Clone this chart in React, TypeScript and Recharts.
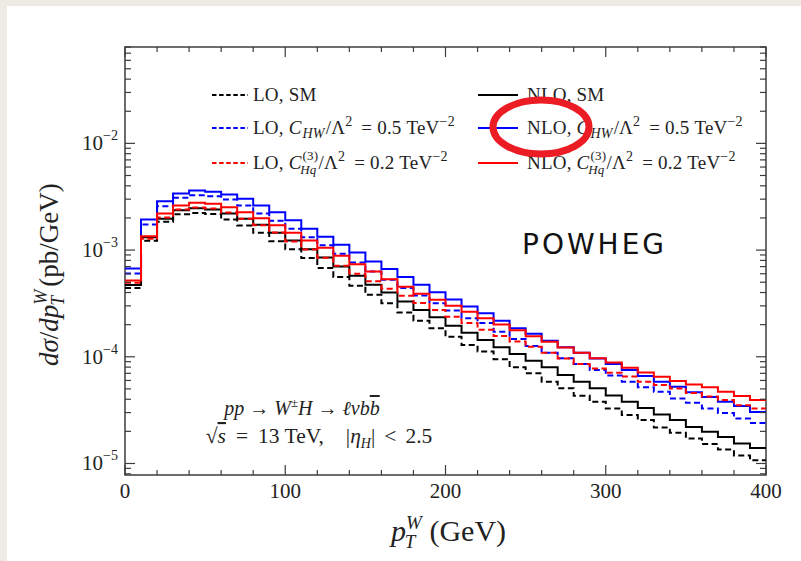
import React from "react";
import { LineChart, Line, XAxis, YAxis, ReferenceArea } from "recharts";

// p_T^W bin lower edges (GeV), 10 GeV bins; last edge closes the histogram
const binEdges = [
  0, 10, 20, 30, 40, 50, 60, 70, 80, 90, 100, 110, 120, 130, 140, 150, 160, 170, 180, 190,
  200, 210, 220, 230, 240, 250, 260, 270, 280, 290, 300, 310, 320, 330, 340, 350, 360, 370, 380, 390, 400,
];

// d sigma / d pT (pb/GeV), one value per bin
const loSM = [
  4.4e-4, 1.22e-3, 1.84e-3, 2.17e-3, 2.23e-3, 2.18e-3, 1.93e-3, 1.7e-3, 1.45e-3, 1.21e-3,
  1.02e-3, 8.43e-4, 6.79e-4, 5.59e-4, 4.63e-4, 3.81e-4, 3.18e-4, 2.6e-4, 2.18e-4, 1.85e-4,
  1.54e-4, 1.29e-4, 1.12e-4, 9.47e-5, 7.97e-5, 7.0e-5, 5.83e-5, 5.06e-5, 4.31e-5, 3.78e-5,
  3.28e-5, 2.84e-5, 2.55e-5, 2.17e-5, 1.94e-5, 1.71e-5, 1.52e-5, 1.35e-5, 1.19e-5, 1.07e-5,
];
const nloSM = [
  4.7e-4, 1.32e-3, 1.97e-3, 2.36e-3, 2.47e-3, 2.4e-3, 2.2e-3, 1.97e-3, 1.73e-3, 1.45e-3,
  1.23e-3, 1.02e-3, 8.54e-4, 7.03e-4, 5.75e-4, 4.73e-4, 4.0e-4, 3.3e-4, 2.75e-4, 2.35e-4,
  1.95e-4, 1.68e-4, 1.44e-4, 1.23e-4, 1.06e-4, 9.19e-5, 7.97e-5, 6.74e-5, 5.83e-5, 5.06e-5,
  4.33e-5, 3.78e-5, 3.32e-5, 2.88e-5, 2.55e-5, 2.2e-5, 1.98e-5, 1.77e-5, 1.54e-5, 1.4e-5,
];
const loCHW = [
  6.04e-4, 1.74e-3, 2.57e-3, 3.09e-3, 3.27e-3, 3.2e-3, 2.98e-3, 2.61e-3, 2.2e-3, 1.88e-3,
  1.58e-3, 1.32e-3, 1.11e-3, 9.25e-4, 7.66e-4, 6.31e-4, 5.27e-4, 4.4e-4, 3.75e-4, 3.18e-4,
  2.71e-4, 2.3e-4, 2.07e-4, 1.72e-4, 1.47e-4, 1.26e-4, 1.09e-4, 9.68e-5, 8.56e-5, 7.51e-5,
  6.67e-5, 5.83e-5, 5.17e-5, 4.7e-5, 4.07e-5, 3.7e-5, 3.28e-5, 2.98e-5, 2.64e-5, 2.4e-5,
];
const nloCHW = [
  6.73e-4, 1.93e-3, 2.87e-3, 3.39e-3, 3.62e-3, 3.52e-3, 3.32e-3, 3.02e-3, 2.61e-3, 2.26e-3,
  1.9e-3, 1.58e-3, 1.33e-3, 1.12e-3, 9.51e-4, 7.83e-4, 6.64e-4, 5.59e-4, 4.73e-4, 4.02e-4,
  3.44e-4, 2.96e-4, 2.56e-4, 2.18e-4, 1.85e-4, 1.64e-4, 1.41e-4, 1.23e-4, 1.09e-4, 9.64e-5,
  8.56e-5, 7.51e-5, 6.6e-5, 5.83e-5, 5.24e-5, 4.64e-5, 4.19e-5, 3.78e-5, 3.45e-5, 3.03e-5,
];
const loCHq = [
  4.94e-4, 1.28e-3, 2.02e-3, 2.4e-3, 2.5e-3, 2.45e-3, 2.25e-3, 1.97e-3, 1.71e-3, 1.46e-3,
  1.2e-3, 1.01e-3, 8.48e-4, 7.14e-4, 6.0e-4, 5.1e-4, 4.34e-4, 3.73e-4, 3.2e-4, 2.75e-4,
  2.37e-4, 2.07e-4, 1.79e-4, 1.57e-4, 1.39e-4, 1.24e-4, 1.09e-4, 9.64e-5, 8.56e-5, 7.76e-5,
  7.09e-5, 6.53e-5, 5.83e-5, 5.43e-5, 5.04e-5, 4.57e-5, 4.24e-5, 3.93e-5, 3.52e-5, 3.28e-5,
];
const nloCHq = [
  5.19e-4, 1.35e-3, 2.2e-3, 2.61e-3, 2.77e-3, 2.71e-3, 2.52e-3, 2.26e-3, 1.99e-3, 1.71e-3,
  1.45e-3, 1.23e-3, 1.05e-3, 8.86e-4, 7.37e-4, 6.31e-4, 5.33e-4, 4.53e-4, 3.89e-4, 3.42e-4,
  3.0e-4, 2.64e-4, 2.3e-4, 2.01e-4, 1.77e-4, 1.56e-4, 1.38e-4, 1.22e-4, 1.09e-4, 9.68e-5,
  8.84e-5, 7.9e-5, 7.12e-5, 6.5e-5, 5.92e-5, 5.51e-5, 5.17e-5, 4.7e-5, 4.28e-5, 3.93e-5,
];

const yDomain = [7.8e-6, 0.08];
const yDecades = [1e-6, 1e-5, 1e-4, 1e-3, 1e-2];
const yMajorExps = ["−5", "−4", "−3", "−2"];
const yMantissas = [1, 2, 3, 4, 5, 6, 7, 8, 9];
const xTicks = [0, 20, 40, 60, 80, 100, 120, 140, 160, 180, 200, 220, 240, 260, 280, 300, 320, 340, 360, 380, 400];
const xLabelTicks = [0, 100, 200, 300, 400];

// plot frame in page pixels
const W = 801;
const H = 561;
const PL = 125;
const PR = 766;
const PT = 47;
const PB = 475;

const SERIF = "'Liberation Serif', 'DejaVu Serif', serif";
const AXIS = "#3c3c3c";
const INK = "#222";
const BLUE = "#0000ff";
const RED = "#ff0000";

const yTicks: number[] = [];
yDecades.forEach((d) =>
  yMantissas.forEach((m) => {
    const v = m * d;
    if (v >= yDomain[0] && v <= yDomain[1] * 1.0001) yTicks.push(v);
  })
);

const rows = binEdges.map((x, i) => {
  const k = Math.min(i, loSM.length - 1);
  return {
    x,
    loSM: loSM[k],
    nloSM: nloSM[k],
    loCHW: loCHW[k],
    nloCHW: nloCHW[k],
    loCHq: loCHq[k],
    nloCHq: nloCHq[k],
  };
});

const series = [
  { key: "loSM", color: "#000", dashed: true },
  { key: "nloSM", color: "#000", dashed: false },
  { key: "loCHW", color: BLUE, dashed: true },
  { key: "nloCHW", color: BLUE, dashed: false },
  { key: "loCHq", color: RED, dashed: true },
  { key: "nloCHq", color: RED, dashed: false },
];

const isMajor = (v: number) => {
  const e = Math.log10(v);
  return Math.abs(e - Math.round(e)) < 1e-6;
};

const YTick = (props: any) => {
  const { y, payload } = props;
  const v = payload.value;
  const major = isMajor(v);
  const len = major ? 10 : 6;
  const idx = yDecades.slice(1).findIndex((d) => Math.abs(d - v) / d < 1e-6);
  return (
    <g>
      <line x1={PL} x2={PL + len} y1={y} y2={y} stroke={AXIS} strokeWidth={1.2} />
      <line x1={PR} x2={PR - len} y1={y} y2={y} stroke={AXIS} strokeWidth={1.2} />
      {major && idx >= 0 && (
        <text x={PL - 7} y={y + 7} textAnchor="end" fontFamily={SERIF} fontSize={21} fill={INK}>
          10
          <tspan fontSize={14} dy={-10}>
            {yMajorExps[idx]}
          </tspan>
        </text>
      )}
    </g>
  );
};

const XTick = (props: any) => {
  const { x, payload } = props;
  const v = payload.value;
  const major = xLabelTicks.includes(v);
  const len = major ? 10 : 5;
  return (
    <g>
      <line x1={x} x2={x} y1={PB} y2={PB - len} stroke={AXIS} strokeWidth={1.2} />
      <line x1={x} x2={x} y1={PT} y2={PT + len} stroke={AXIS} strokeWidth={1.2} />
      {major && (
        <text x={x} y={PB + 23} textAnchor="middle" fontFamily={SERIF} fontSize={21} fill={INK}>
          {v}
        </text>
      )}
    </g>
  );
};

const LegendRow = ({ x, y, color, dashed, children }: any) => (
  <g>
    <line
      x1={x}
      x2={x + (dashed ? 36 : 40)}
      y1={y - 6}
      y2={y - 6}
      stroke={color}
      strokeWidth={1.8}
      strokeDasharray={dashed ? "4.5 2.6" : undefined}
    />
    <text x={x + (dashed ? 41 : 49)} y={y} fontFamily={SERIF} fontSize={19} letterSpacing={0.2} fill={INK}>
      {children}
    </text>
  </g>
);

const chwText = (lead: string) => (
  <>
    {lead}, <tspan fontStyle="italic">C</tspan>
    <tspan fontStyle="italic" fontSize={14} dx={1} dy={4}>
      HW
    </tspan>
    <tspan dx={1} dy={-4}>
      /Λ
    </tspan>
    <tspan fontSize={14} dy={-8}>
      2
    </tspan>
    <tspan dy={8} dx={4}>
      {" "}= 0.5 TeV
    </tspan>
    <tspan fontSize={14} dy={-8}>
      −2
    </tspan>
  </>
);

// C_Hq^(3): superscript and subscript stacked on the same column
const chqText = (lead: string) => (
  <>
    {lead}, <tspan fontStyle="italic">C</tspan>
    <tspan fontSize={13} dx={1} dy={-9}>
      (3)
    </tspan>
    <tspan fontStyle="italic" fontSize={13} dx={-18} dy={14}>
      Hq
    </tspan>
    <tspan dx={2} dy={-5}>
      /Λ
    </tspan>
    <tspan fontSize={14} dy={-8}>
      2
    </tspan>
    <tspan dy={8} dx={4}>
      {" "}= 0.2 TeV
    </tspan>
    <tspan fontSize={14} dy={-8}>
      −2
    </tspan>
  </>
);

function Overlay() {
  const c1 = 212;
  const c2 = 478;
  return (
    <svg width={W} height={H} style={{ position: "absolute", left: 0, top: 0, pointerEvents: "none" }}>
      <LegendRow x={c1} y={101} color="#000" dashed>
        LO, SM
      </LegendRow>
      <LegendRow x={c2} y={101} color="#000" dashed={false}>
        NLO, SM
      </LegendRow>
      <LegendRow x={c1} y={134} color={BLUE} dashed>
        {chwText("LO")}
      </LegendRow>
      <LegendRow x={c2} y={134} color={BLUE} dashed={false}>
        {chwText("NLO")}
      </LegendRow>
      <LegendRow x={c1} y={169} color={RED} dashed>
        {chqText("LO")}
      </LegendRow>
      <LegendRow x={c2} y={169} color={RED} dashed={false}>
        {chqText("NLO")}
      </LegendRow>

      <ellipse cx={541} cy={127} rx={48} ry={27} fill="none" stroke="#ec1c24" strokeWidth={7} />

      <text x={522} y={254} fontFamily="'DejaVu Sans', sans-serif" fontSize={28} letterSpacing={3} fill="#111">
        POWHEG
      </text>

      <text x={302} y={415} textAnchor="middle" fontFamily={SERIF} fontSize={20} fill={INK}>
        <tspan fontStyle="italic">pp</tspan> → <tspan fontStyle="italic">W</tspan>
        <tspan fontSize={13} dy={-8}>
          ±
        </tspan>
        <tspan fontStyle="italic" dy={8}>
          H
        </tspan>{" "}
        → <tspan fontStyle="italic">ℓνb</tspan>
        <tspan fontStyle="italic" style={{ textDecoration: "overline" }}>
          b
        </tspan>
      </text>
      <text x={319} y={443} textAnchor="middle" fontFamily={SERIF} fontSize={21.5} fill={INK}>
        √<tspan fontStyle="italic" style={{ textDecoration: "overline" }}>s</tspan>
        <tspan dx={10}>=</tspan>
        <tspan dx={10}>13 TeV,</tspan>
        <tspan dx={22}>|</tspan>
        <tspan fontStyle="italic">η</tspan>
        <tspan fontStyle="italic" fontSize={14} dy={5}>
          H
        </tspan>
        <tspan dy={-5}>|</tspan>
        <tspan dx={9}>&lt;</tspan>
        <tspan dx={9}>2.5</tspan>
      </text>

      <text x={58} y={366} transform="rotate(-90 58 366)" fontFamily={SERIF} fontSize={27} fill={INK}>
        <tspan fontStyle="italic">dσ</tspan>/<tspan fontStyle="italic">dp</tspan>
        <tspan fontStyle="italic" fontSize={18} dy={-11}>
          W
        </tspan>
        <tspan fontStyle="italic" fontSize={18} dx={-16} dy={17}>
          T
        </tspan>
        <tspan dx={9} dy={-6}>
          (pb/GeV)
        </tspan>
      </text>

      <text x={391} y={541} fontFamily={SERIF} fontSize={30} fill={INK}>
        <tspan fontStyle="italic">p</tspan>
        <tspan fontStyle="italic" fontSize={19} dy={-12}>
          W
        </tspan>
        <tspan fontStyle="italic" fontSize={19} dx={-17} dy={19}>
          T
        </tspan>
        <tspan dx={14} dy={-7}>
          (GeV)
        </tspan>
      </text>
    </svg>
  );
}

export default function App() {
  return (
    <div style={{ position: "absolute", left: 0, top: 0, width: W, height: H, background: "#eeebe4", overflow: "hidden" }}>
      <div style={{ position: "absolute", left: 7, top: 6, right: 0, bottom: 0, background: "#fff" }} />
      <div style={{ position: "absolute", left: 0, top: 0 }}>
        <LineChart width={W} height={H} data={rows} margin={{ top: PT, right: W - PR, bottom: 0, left: 0 }}>
          <XAxis
            dataKey="x"
            type="number"
            domain={[0, 400]}
            ticks={xTicks}
            interval={0}
            height={H - PB}
            axisLine={false}
            tickLine={false}
            tick={<XTick />}
          />
          <YAxis
            type="number"
            scale="log"
            domain={yDomain}
            allowDataOverflow
            ticks={yTicks}
            interval={0}
            width={PL}
            axisLine={false}
            tickLine={false}
            tick={<YTick />}
          />
          {series.map((s) => (
            <Line
              key={s.key}
              dataKey={s.key}
              type="stepAfter"
              stroke={s.color}
              strokeWidth={2}
              strokeDasharray={s.dashed ? "6 3.5" : undefined}
              dot={false}
              activeDot={false}
              isAnimationActive={false}
            />
          ))}
          <ReferenceArea x1={0} x2={400} y1={yDomain[0]} y2={yDomain[1]} fill="none" stroke={AXIS} strokeWidth={1.5} />
        </LineChart>
      </div>
      <Overlay />
    </div>
  );
}
